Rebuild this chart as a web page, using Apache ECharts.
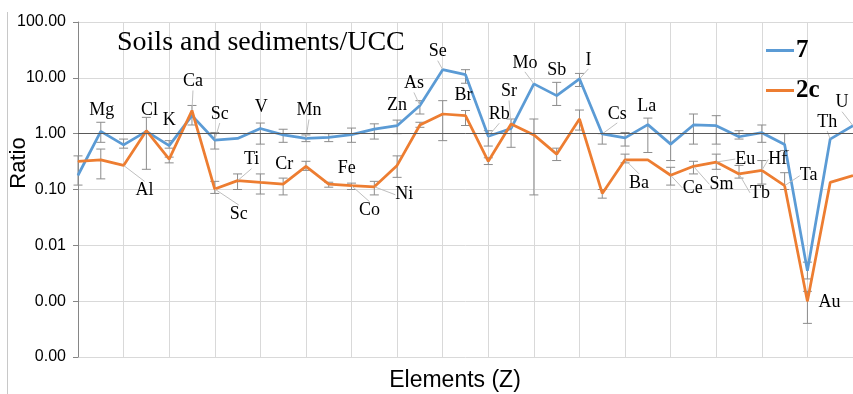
<!DOCTYPE html>
<html><head><meta charset="utf-8">
<script src="https://cdn.jsdelivr.net/npm/echarts@6/dist/echarts.min.js"></script>
<style>html,body{margin:0;padding:0;background:#fff}#c{width:853px;height:394px}</style>
</head><body><div id="c"></div>
<script>
// ---- data ----
const elements = ['Na','Mg','Al','Cl','K','Ca','Sc','Ti','V','Cr','Mn','Fe','Co','Ni','Zn','As','Se','Br','Rb','Sr','Mo','Sb','I','Cs','Ba','La','Ce','Sm','Eu','Tb','Hf','Ta','Au','Th','U'];
const ratio7  = [0.18,1.1,0.63,1.1,0.61,2.1,0.77,0.82,1.24,0.95,0.82,0.86,0.96,1.21,1.39,3.2,14,11.4,0.9,1.24,7.8,4.8,9.6,0.99,0.84,1.45,0.65,1.43,1.39,0.88,1.04,0.64,0.0035,0.8,1.39];
const ratio2c = [0.32,0.34,0.27,1.13,0.35,2.6,0.102,0.144,0.134,0.125,0.26,0.125,0.117,0.112,0.27,1.43,2.25,2.1,0.32,1.49,0.95,0.43,1.83,0.085,0.34,0.34,0.18,0.26,0.31,0.19,0.22,0.117,0.001,0.134,0.177];
const err7Low   = [0.12,0.7,0.55,0.23,0.55,null,0.53,null,0.65,0.7,0.72,0.72,0.7,0.8,1.0,2.25,null,8,0.6,null,null,3.2,7,0.65,0.6,0.46,0.33,0.65,0.65,0.8,0.7,0.5,0.0025,null,null];
const err7High  = [0.4,1.6,0.8,1.96,0.75,null,1.05,null,1.55,1.2,0.95,1.0,1.26,1.5,1.75,3.9,null,14,1.13,null,null,8.3,12,1.0,1.05,1.9,1.0,2.25,2.1,1.13,1.43,1.0,0.005,null,null];
const err2cLow  = [null,0.155,null,null,0.3,1.43,0.085,0.1,0.083,0.08,0.22,0.11,0.1,0.08,0.165,1.3,0.75,1.4,0.28,0.57,0.08,0.33,1.16,0.07,0.3,null,0.12,0.19,0.23,0.16,0.125,0.1,0.0004,null,null];
const err2cHigh = [null,0.53,null,null,0.38,3.2,0.14,0.19,0.19,0.16,0.32,0.135,0.13,0.14,0.4,1.6,3.9,2.6,0.37,1.83,1.83,0.55,2.65,0.1,0.43,null,0.25,0.32,0.43,0.27,0.33,0.2,0.0015,null,null];
const seriesNames = ['7','2c'];
const yMin = 0.0001, yMax = 100;

// ---- label placement (style only) ----
const labels7 = {Mg:[1,-21,0],Cl:[3,-21,0],K:[0,-25,0],Sc:[5,-26,1],V:[1,-21,0],Mn:[3,-28,1],Zn:[0,-20,0],As:[-6,-22,1],Se:[-5,-18,1],Rb:[11,-22,1],Sr:[-2,-37,1],Mo:[-9,-21,1],Sb:[0,-25,0],I:[9,-19,1],Cs:[15,-20,1],La:[-1,-18,0],Th:[-3,-17,1],U:[-11,-23,1]};
const labels2c = {Al:[21,25,1],Ca:[1,-29,1],Ti:[14,-21,1],Sc:[24,25,1],Cr:[1,-20,0],Fe:[18,-16,0],Co:[18,25,1],Ni:[30,8,1],Br:[-2,-20,0],Ba:[14,23,1],Ce:[22,13,1],Sm:[28,18,1],Eu:[29,-3,1],Tb:[21,19,1],Hf:[16,-11,1],Ta:[24,-10,1],Au:[22,1,0]};

const BLUE = '#5B9BD5', ORANGE = '#ED7D31';
const labelFont = {fontFamily:'"Liberation Serif", "Times New Roman", serif', fontSize:18, color:'#000'};

function buildData(values, spec) {
  return values.map((v, i) => {
    const s = spec[elements[i]];
    if (!s) return {value: v, label: {show: false}};
    return {value: v, label: Object.assign({show: true, position: 'inside', formatter: elements[i]}, labelFont),
            labelLine: {show: !!s[2], lineStyle: {color: '#bfbfbf', width: 1}}};
  });
}
function layoutFn(spec) {
  return function (p) {
    const s = spec[elements[p.dataIndex]];
    return s ? {dx: s[0], dy: s[1]} : {};
  };
}
function errData(lo, hi) {
  const out = [];
  lo.forEach((l, i) => { if (l != null && hi[i] != null) out.push([i, l, hi[i]]); });
  return out;
}
function errSeries(lo, hi) {
  return {
    type: 'custom', silent: true, z: 1,
    data: errData(lo, hi),
    encode: {x: 0, y: [1, 2]},
    renderItem: function (params, api) {
      const a = api.coord([api.value(0), api.value(1)]);
      const b = api.coord([api.value(0), api.value(2)]);
      const w = 4.5;
      const st = {stroke: '#8c8c8c', lineWidth: 1};
      return {type: 'group', children: [
        {type: 'line', shape: {x1: a[0], y1: a[1], x2: b[0], y2: b[1]}, style: st},
        {type: 'line', shape: {x1: a[0]-w, y1: a[1], x2: a[0]+w, y2: a[1]}, style: st},
        {type: 'line', shape: {x1: b[0]-w, y1: b[1], x2: b[0]+w, y2: b[1]}, style: st}
      ]};
    }
  };
}

const chart = echarts.init(document.getElementById('c'), null, {renderer: 'canvas'});
chart.setOption({
  animation: false,
  backgroundColor: '#fff',
  title: {text: 'Soils and sediments/UCC', left: 112, top: 23,
    textStyle: {fontFamily: '"Liberation Serif", serif', fontSize: 28, fontWeight: 'normal', color: '#000', lineHeight: 30}},
  legend: {data: seriesNames, orient: 'vertical', left: 761, top: 32, itemWidth: 28, itemHeight: 3, itemGap: 13, icon: 'rect',
    textStyle: {fontFamily: '"Liberation Serif", serif', fontSize: 25, fontWeight: 'bold', color: '#000', lineHeight: 24, padding: [3, 0, 0, -3]}},
  grid: {left: 78, right: 0, top: 22, bottom: 37, containLabel: false},
  xAxis: {type: 'category', data: elements, boundaryGap: false,
    axisLine: {show: false}, axisTick: {show: false}, axisLabel: {show: false},
    splitLine: {show: true, lineStyle: {color: '#d9d9d9', width: 1}}},
  yAxis: {type: 'log', logBase: 10, min: yMin, max: yMax, splitNumber: 6,
    axisLine: {show: true, lineStyle: {color: '#868686'}},
    axisTick: {show: true, length: 5, lineStyle: {color: '#868686'}},
    minorTick: {show: false},
    axisLabel: {margin: 12, color: '#000', fontSize: 16, fontFamily: '"Liberation Sans", Arial, sans-serif',
      formatter: v => Number(v).toFixed(2)},
    splitLine: {show: true, lineStyle: {color: '#d9d9d9', width: 1}}},
  graphic: [
    {type: 'line', shape: {x1: 7.5, y1: 12, x2: 7.5, y2: 394}, style: {stroke: '#c8c8c8', lineWidth: 1}, silent: true},
    {type: 'text', x: 455, y: 381, silent: true,
      style: {text: 'Elements (Z)', fontSize: 23, fontFamily: '"Liberation Sans", Arial, sans-serif', fill: '#000', align: 'center', verticalAlign: 'middle'}},
    {type: 'text', x: 19, y: 163, rotation: Math.PI / 2, silent: true,
      style: {text: 'Ratio', fontSize: 22, fontFamily: '"Liberation Sans", Arial, sans-serif', fill: '#000', align: 'center', verticalAlign: 'middle'}}
  ],
  series: [
    errSeries(err7Low, err7High),
    errSeries(err2cLow, err2cHigh),
    {name: '7', type: 'line', z: 3, data: buildData(ratio7, labels7),
      showSymbol: true, showAllSymbol: true, symbol: 'circle', symbolSize: 1,
      itemStyle: {color: BLUE}, lineStyle: {color: BLUE, width: 2.75},
      labelLayout: layoutFn(labels7),
      markLine: {silent: true, symbol: 'none', label: {show: false},
        lineStyle: {color: '#595959', width: 1, type: 'solid'}, data: [{yAxis: 1}]}},
    {name: '2c', type: 'line', z: 4, data: buildData(ratio2c, labels2c),
      showSymbol: true, showAllSymbol: true, symbol: 'circle', symbolSize: 1,
      itemStyle: {color: ORANGE}, lineStyle: {color: ORANGE, width: 2.75},
      labelLayout: layoutFn(labels2c)}
  ]
});
</script></body></html>
